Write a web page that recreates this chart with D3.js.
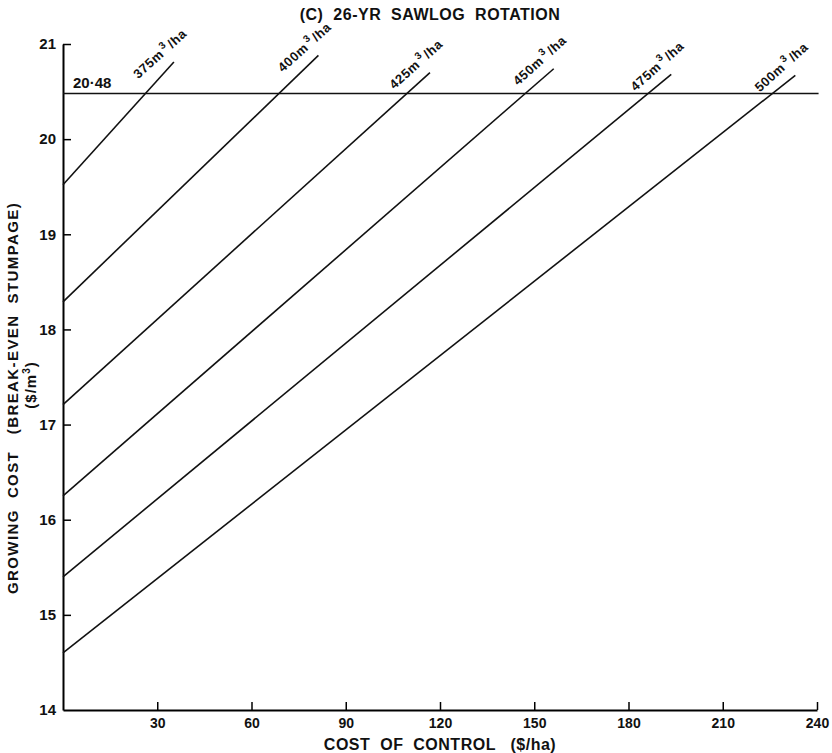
<!DOCTYPE html>
<html>
<head>
<meta charset="utf-8">
<script src="https://cdn.jsdelivr.net/npm/d3@7"></script>
<style>
  body { margin: 0; background: #fff; }
  svg { display: block; font-family: "Liberation Sans", Arial, sans-serif; font-weight: bold; }
</style>
</head>
<body>
<div id="chart"></div>
<script>
// volumes (m3/ha) and the line for each: from cost 0 up to the end point
const volumes = ["375", "400", "425", "450", "475", "500"];
const startGrow = [19.52, 18.29, 17.21, 16.25, 15.40, 14.60];
const endCost = [35.3, 81.3, 116.8, 156.2, 193.6, 233.1];
const endGrow = [20.81, 20.88, 20.70, 20.74, 20.68, 20.67];
const breakEven = 20.48;
const xTicks = [30, 60, 90, 120, 150, 180, 210, 240];
const yTicks = [14, 15, 16, 17, 18, 19, 20, 21];

const width = 832, height = 753;
const margin = { top: 44, right: 15, bottom: 43, left: 63 };

const svg = d3.select("#chart")
  .append("svg")
  .attr("width", width)
  .attr("height", height)
  .attr("viewBox", [0, 0, width, height]);

// Scales
const x = d3.scaleLinear()
  .domain([0, 240])
  .range([margin.left, width - margin.right]);

const y = d3.scaleLinear()
  .domain([14, 21])
  .range([height - margin.bottom, margin.top]);

// Axes
const xAxis = g => g
  .attr("transform", `translate(0,${y(14)})`)
  .call(d3.axisBottom(x).tickValues(xTicks).tickFormat(d3.format("d")).tickSizeInner(-8).tickSizeOuter(0).tickPadding(6))
  .call(g => g.select(".domain").attr("stroke-width", 2))
  .call(g => g.selectAll(".tick line").attr("stroke-width", 1.5))
  .call(g => g.selectAll(".tick text").attr("font-size", 14).attr("fill", "#111").attr("font-weight", "bold").attr("dy", "0.85em"));

const yAxis = g => g
  .attr("transform", `translate(${x(0)},0)`)
  .call(d3.axisLeft(y).tickValues(yTicks).tickFormat(d3.format("d")).tickSizeInner(-8).tickSizeOuter(0).tickPadding(7))
  .call(g => g.select(".domain").attr("stroke-width", 2))
  .call(g => g.selectAll(".tick line").attr("stroke-width", 1.5))
  .call(g => g.selectAll(".tick text").attr("font-size", 15).attr("fill", "#111").attr("font-weight", "bold"))
  .call(g => g.selectAll(".tick").filter(d => d === 14).select("line").remove());

svg.append("g").call(xAxis);
svg.append("g").call(yAxis);

// break-even line
svg.append("line")
  .attr("x1", x(0)).attr("x2", x(240.5))
  .attr("y1", y(breakEven)).attr("y2", y(breakEven))
  .attr("stroke", "#111")
  .attr("stroke-width", 1.6);

svg.append("text")
  .attr("x", x(0) + 10)
  .attr("y", y(breakEven) - 5)
  .attr("font-size", 15)
  .attr("fill", "#111")
  .text("20·48");

// volume lines
const lines = volumes.map((v, i) => ({
  v,
  pts: [[0, startGrow[i]], [endCost[i], endGrow[i]]]
}));

const line = d3.line()
  .x(d => x(d[0]))
  .y(d => y(d[1]));

svg.append("g")
  .attr("fill", "none")
  .attr("stroke", "#111")
  .attr("stroke-width", 1.6)
  .selectAll("path")
  .data(lines)
  .join("path")
  .attr("d", d => line(d.pts));

// labels along the line ends
const labels = svg.append("g")
  .attr("font-size", 13)
  .attr("letter-spacing", 0.6)
  .attr("fill", "#111")
  .selectAll("text")
  .data(lines)
  .join("text")
  .attr("text-anchor", "middle")
  .attr("transform", d => `translate(${x(d.pts[1][0]) - 11},${y(d.pts[1][1]) - 5}) rotate(-42)`);

labels.append("tspan").text(d => d.v + "m");
labels.append("tspan").attr("font-size", 10).attr("dy", -6).attr("dx", 2).text("3");
labels.append("tspan").attr("dy", 6).attr("dx", 2).text("/ha");

// titles
svg.append("text")
  .attr("x", 430)
  .attr("y", 20)
  .attr("text-anchor", "middle")
  .attr("font-size", 16)
  .attr("letter-spacing", 0.5)
  .attr("fill", "#111")
  .attr("xml:space", "preserve")
  .text("(C)  26-YR  SAWLOG  ROTATION");

svg.append("text")
  .attr("x", 440)
  .attr("y", 750)
  .attr("text-anchor", "middle")
  .attr("font-size", 16)
  .attr("letter-spacing", 0.5)
  .attr("fill", "#111")
  .attr("xml:space", "preserve")
  .text("COST  OF  CONTROL   ($/ha)");

svg.append("text")
  .attr("transform", "translate(18,398) rotate(-90)")
  .attr("text-anchor", "middle")
  .attr("font-size", 15)
  .attr("letter-spacing", 1.4)
  .attr("fill", "#111")
  .attr("xml:space", "preserve")
  .text("GROWING  COST   (BREAK-EVEN  STUMPAGE)");

const unit = svg.append("text")
  .attr("transform", "translate(36,385) rotate(-90)")
  .attr("text-anchor", "middle")
  .attr("font-size", 15)
  .attr("letter-spacing", 1)
  .attr("fill", "#111");
unit.append("tspan").text("($/m");
unit.append("tspan").attr("font-size", 10).attr("dy", -6).text("3");
unit.append("tspan").attr("dy", 6).text(")");
</script>
</body>
</html>
